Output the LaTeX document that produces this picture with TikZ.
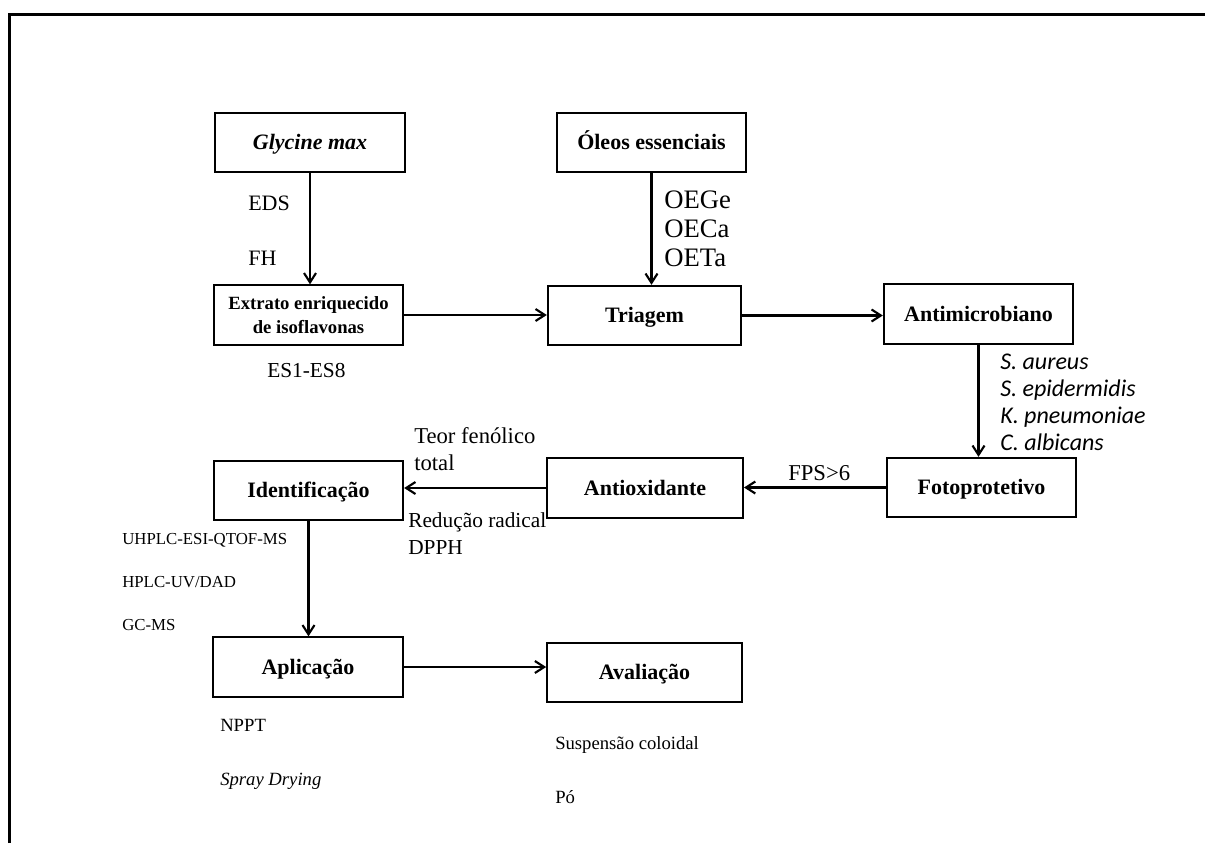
\documentclass[tikz,border=0pt]{standalone}
\usepackage{fontspec}
\setmainfont{Liberation Serif}
\newfontfamily\calibfont{Carlito}
\usetikzlibrary{arrows.meta}

\tikzset{
  etapa/.style={draw, line width=1.5pt, minimum width=142pt, minimum height=44.5pt,
    inner sep=2pt, align=center, text height=12pt, text depth=1.5pt,
    font=\fontsize{16.5}{19}\selectfont\bfseries},
  seta/.style={-{Straight Barb[length=7pt,width=9pt]}, line width=1.6pt},
  rotulo/.style={anchor=base west, align=left, inner sep=0pt},
}

\begin{document}
\begin{tikzpicture}[x=0.75pt, y=-0.75pt]
  \useasboundingbox (0,0) rectangle (1205,843);
  \fill[white] (0,0) rectangle (1205,843);
  % moldura
  \draw[line width=2.25pt] (9,843) -- (9,14) -- (1205,14);

  % etapas
  \node[etapa, font=\fontsize{16.5}{19}\selectfont\bfseries\itshape] (glycine) at (310,142.5) {Glycine max};
  \node[etapa] (oleos) at (651.5,142.5) {Óleos essenciais};
  \node[etapa, text height=, text depth=, font=\fontsize{14}{17.5}\selectfont\bfseries] (extrato) at (308.5,315) {Extrato enriquecido\\de isoflavonas};
  \node[etapa, minimum width=145pt] (triagem) at (644.5,315.5) {Triagem};
  \node[etapa] (antimicro) at (978.5,314) {Antimicrobiano};
  \node[etapa] (foto) at (981.5,487.5) {Fotoprotetivo};
  \node[etapa, minimum width=147pt] (antiox) at (645,488) {Antioxidante};
  \node[etapa] (ident) at (308.5,490.5) {Identificação};
  \node[etapa] (aplic) at (308,667) {Aplicação};
  \node[etapa, minimum width=146pt] (avalia) at (644.5,672.5) {Avaliação};

  % ligacoes
  \draw[seta] (glycine.south) -- (glycine.south |- extrato.north);
  \draw[seta] (oleos.south) -- (oleos.south |- triagem.north);
  \draw[seta] (extrato.east) -- (extrato.east -| triagem.west);
  \draw[seta] (triagem.east) -- (triagem.east -| antimicro.west);
  \draw[seta] (antimicro.south) -- (antimicro.south |- foto.north);
  \draw[seta] (foto.west) -- (foto.west -| antiox.east);
  \draw[seta] (antiox.west) -- (antiox.west -| ident.east);
  \draw[seta] (ident.south) -- (ident.south |- aplic.north);
  \draw[seta] (aplic.east) -- (aplic.east -| avalia.west);

  % rotulos (base = ultima linha)
  \node[rotulo, font=\fontsize{16.5}{41.25}\selectfont] (eds) at (248,265) {EDS\\FH};
  \node[rotulo, font=\fontsize{16}{19}\selectfont] (es) at (267,377) {ES1-ES8};
  \node[rotulo, font=\fontsize{20}{21.4}\selectfont] (oeg) at (664,266) {OEGe\\OECa\\OETa};
  \node[rotulo, font=\fontsize{18}{20.25}\selectfont\calibfont\itshape] (micro) at (1000,450) {S. aureus\\S. epidermidis\\K. pneumoniae\\C. albicans};
  \node[rotulo, font=\fontsize{17}{20.25}\selectfont] (teor) at (414,470) {Teor fenólico\\total};
  \node[rotulo, font=\fontsize{16}{20.25}\selectfont] (dpph) at (408,554) {Redução radical\\DPPH};
  \node[rotulo, font=\fontsize{17}{20}\selectfont] (fps) at (788,480) {FPS>6};
  \node[rotulo, font=\fontsize{12.6}{32.25}\selectfont] (metodos) at (122,630) {UHPLC-ESI-QTOF-MS\\HPLC-UV/DAD\\GC-MS};
  \node[rotulo, font=\fontsize{14}{40.5}\selectfont] (nppt) at (220,785) {NPPT\\\textit{Spray Drying}};
  \node[rotulo, font=\fontsize{14}{40}\selectfont] (forma) at (555,803) {Suspensão coloidal\\Pó};
\end{tikzpicture}
\end{document}
